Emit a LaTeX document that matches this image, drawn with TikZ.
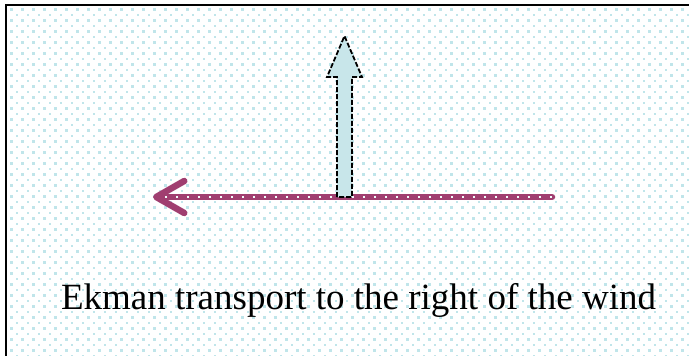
\documentclass[tikz,border=0pt]{standalone}
\usepackage{fontspec}
\setmainfont{Liberation Serif}
\usetikzlibrary{arrows.meta,calc}
\definecolor{dotcyan}{RGB}{192,229,234}
\definecolor{windred}{RGB}{160,62,112}
\definecolor{flowblue}{RGB}{200,230,234}

\begin{document}
\begin{tikzpicture}[x=1pt,y=-1pt,
  winddir/.style={line width=6.5pt,color=windred,line cap=round,
    -{Straight Barb[length=28pt,width=32pt,line cap=round,line join=round]}},
  winddots/.style={line width=2pt,color=white!80!dotcyan,dash pattern=on 2pt off 9pt},
  transport/.style={draw=black,fill=flowblue,line width=1.8pt,dash pattern=on 5pt off 2pt}]
\useasboundingbox (0,0) rectangle (689,356);
% dotted backdrop
\foreach \r in {0,...,63}{
  \pgfmathsetmacro{\yy}{9.5+5.5*\r}
  \pgfmathsetmacro{\xo}{mod(\r,2)*5.5}
  \foreach \c in {0,...,62}{
    \fill[dotcyan] ({11.5+\xo+11*\c-1.2},{\yy-1.2}) rectangle +(2.4,2.4);
  }
}
\draw[line width=2pt] (6,356) -- (6,5) -- (689,5);
% wind
\coordinate (windA) at (552,197);
\coordinate (windB) at (153,197);
\draw[winddir] (windA) -- (windB);
\draw[winddots] (windA) -- ($(windB)+(4,0)$);
% Ekman transport
\draw[transport]
(344.5,197)coordinate(base)
(337,197)--(337,77)--(327,77)--(344.5,36)coordinate(tip)--(362,77)--(352,77)--(352,197)--cycle
;
\node[font=\fontsize{37}{42}\selectfont,anchor=base] (caption) at (358.5,309)
  {Ekman transport to the right of the wind};
\end{tikzpicture}
\end{document}
